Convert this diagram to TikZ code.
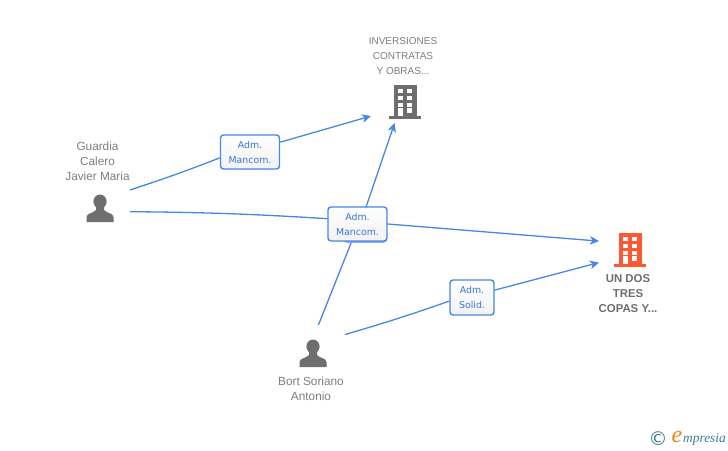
\documentclass[tikz,border=0pt]{standalone}
\usepackage{fontspec}
\setmainfont{Liberation Sans}
\newfontfamily\boxfont{DejaVu Sans}
\newfontfamily\logofont{Liberation Serif}
\usetikzlibrary{arrows.meta}
\definecolor{linkblue}{RGB}{72,134,232}
\definecolor{textblue}{RGB}{56,118,218}
\definecolor{icongray}{RGB}{110,110,110}
\definecolor{namegray}{RGB}{125,125,125}
\definecolor{redbuild}{RGB}{255,88,48}
\definecolor{logoteal}{RGB}{62,124,146}
\definecolor{logoorange}{RGB}{240,130,30}
\tikzset{link/.append style={draw=linkblue,line width=1.3pt}}
\tikzset{tip/.append style={-{Stealth[length=9pt,width=8.5pt,inset=2.5pt]}}}
\tikzset{mn/.append style={draw=linkblue,line width=1.4pt,rounded corners=3pt,top color=white,bottom color=black!5,minimum height=34pt,inner sep=0pt,align=center,text=textblue,font=\boxfont\fontsize{9.4}{15}\selectfont}}
\tikzset{ic/.append style={inner sep=0pt,outer sep=0pt}}
\tikzset{nm/.append style={align=center,text=namegray,inner sep=0pt,font=\fontsize{11.8}{15}\selectfont}}
\tikzset{pics/person/.style={code={
  \fill[icongray] (0,-20.5) ellipse (6.6pt and 7pt);
  \fill[icongray] (-13.5,0) -- (-13.5,-5) .. controls (-13.5,-9) and (-6,-9) .. (-4,-12) -- (-4,-15) -- (4,-15) -- (4,-12) .. controls (6,-9) and (13.5,-9) .. (13.5,-5) -- (13.5,0) -- cycle;
}}}
\tikzset{pics/building/.style={code={
  \fill[#1] (-11,-34) rectangle (12,-2);
  \fill[#1] (-16,-3) rectangle (16,0);
  \foreach \wx in {-7,2} \foreach \wy in {-30,-23,-16} \fill[white] (\wx,\wy) rectangle +(5,4);
  \fill[white] (-7,-11) rectangle (-2,-3);
  \fill[white] (2,-11) rectangle (7,-6);
}}}
\begin{document}
\begin{tikzpicture}[x=1pt,y=-1pt]
                \useasboundingbox (0,0) rectangle (728,450);
                % icons
                \node[ic,minimum width=60pt,minimum height=60pt] (guardia) at (100,208) {};
                \node[ic,minimum width=64pt,minimum height=56pt] (bort) at (313,353) {};
                \node[ic,minimum width=66pt,minimum height=42pt] (inversiones) at (404,102) {};
                \node[ic,minimum width=62pt,minimum height=40pt] (undos) at (630,250) {};
                \pic at (100,222) {person};
                \pic at (313,367) {person};
                \pic at (405,119) {building=icongray};
                \pic at (630,267) {building=redbuild};
                % names
                \node[nm] (nguardia) at (97.5,161) {Guardia\\Calero\\Javier Maria};
                \node[nm] (nbort) at (311,388.5) {Bort Soriano\\Antonio};
                \node[nm,font=\fontsize{10}{15}\selectfont] (ninversiones) at (403,56) {INVERSIONES\\CONTRATAS\\Y OBRAS...};
                \node[nm,text=icongray,font=\bfseries\fontsize{11.4}{15}\selectfont] (nundos) at (628,294) {UN DOS\\TRES\\COPAS Y...};
                % boxes
                \node[mn,minimum width=42pt] (solidhid) at (365,225) {};
                \node[mn,minimum width=59pt] (mancomb) at (250,152) {Adm.\\Mancom.};
                \node[mn,minimum width=59pt] (mancomc) at (357.5,224) {Adm.\\Mancom.};
                \node[mn,minimum width=44pt,minimum height=35pt] (solid) at (472,297.5) {Adm.\\Solid.};
                % links
                \path (guardia.31) edge[link,bend right=1.5] (mancomb.191);
                \path (mancomb.18) edge[link,tip] (inversiones.203);
                \path (guardia.-7.6) edge[link,bend left=1.5] (mancomc.170.4);
                \path (mancomc.east) edge[link,tip] (undos.164.3);
                \path (bort.79.9) edge[link] (solidhid.232.6);
                \path (solidhid.87) edge[link,tip] (inversiones.246.8);
                \path (bort.30.7) edge[link,bend right=1.5] (solid.189);
                \path (solid.18.8) edge[link,tip] (undos.202.8);
                % logo
                \node[inner sep=0pt,text=logoteal,font=\boxfont\fontsize{19}{19}\selectfont] (copyr) at (658,438.5) {©};
                \node[inner sep=0pt,text=logoorange,font=\logofont\itshape\fontsize{24}{24}\selectfont] (logoe) at (677,437) {e};
                \node[inner sep=0pt,text=logoteal,anchor=west,font=\logofont\itshape\fontsize{13.4}{13}\selectfont] (logot) at (683,439) {mpresia};
            \end{tikzpicture}
\end{document}
